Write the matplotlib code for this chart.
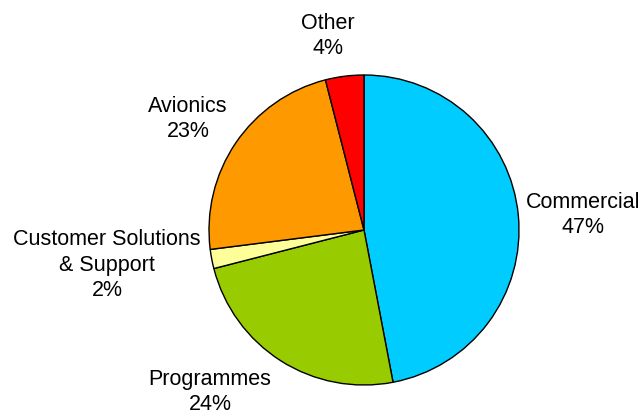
import matplotlib
matplotlib.use("Agg")
import matplotlib.pyplot as plt

labels = ["Commercial", "Programmes", "Customer Solutions\n& Support", "Avionics", "Other"]
shares = [47, 24, 2, 23, 4]
colors = ["#00CCFF", "#99CC00", "#FFFF99", "#FF9900", "#FF0000"]

# label centres in pixels (x, y from top)
label_pos = [(583, 215), (210, 392), (107, 265), (188, 119), (328, 36)]

W, H = 643, 415
fig = plt.figure(figsize=(W / 100, H / 100), dpi=100)
ax = fig.add_axes([0, 0, 1, 1])

ax.pie(shares, colors=colors, startangle=90, counterclock=False,
       center=(364, H - 230), radius=155, frame=True,
       wedgeprops=dict(edgecolor="black", linewidth=1.0))
ax.set_xlim(0, W)
ax.set_ylim(0, H)
ax.set_aspect("equal")
ax.axis("off")

for lab, val, (x, y) in zip(labels, shares, label_pos):
    ax.text(x, H - y, f"{lab}\n{val}%", ha="center", va="center",
            fontsize=15.5, family="Liberation Sans", linespacing=1.3)

fig.savefig("out.png", dpi=100)
